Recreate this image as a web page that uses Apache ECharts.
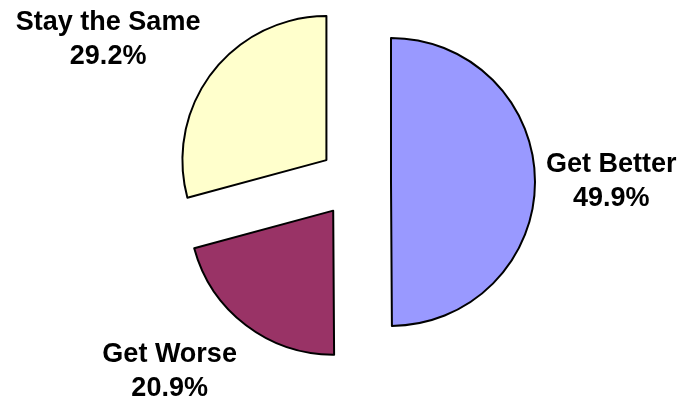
<!DOCTYPE html>
<html>
<head>
<meta charset="utf-8">
<script src="https://cdn.jsdelivr.net/npm/echarts@6/dist/echarts.min.js"></script>
<style>
  html, body { margin: 0; padding: 0; background: #fff; }
  #chart { width: 684px; height: 407px; }
</style>
</head>
<body>
<div id="chart"></div>
<script>
// slices in drawing order, clockwise from 12 o'clock
var categories = ['Get Better', 'Get Worse', 'Stay the Same']
var percents = [49.9, 20.9, 29.2]
var colors = ['#9999ff', '#993366', '#ffffcc']

// label line lengths (invisible) used only to place each label
var labelLines = [
  { length: 3, length2: 3 },
  { length: 58, length2: -31 },
  { length: 55, length2: -37 }
]

var chart = echarts.init(document.getElementById('chart'))

var data = categories.map(function(name, i) {
  return {
    name: name,
    value: percents[i],
    selected: true,
    itemStyle: { color: colors[i] },
    labelLine: { show: false, length: labelLines[i].length, length2: labelLines[i].length2 }
  }
})

chart.setOption({
  backgroundColor: '#fff',
  animation: false,
  series: [
    {
      type: 'pie',
      center: [355, 182],
      radius: 144,
      startAngle: 90,
      clockwise: true,
      selectedMode: 'multiple',
      selectedOffset: 36,
      avoidLabelOverlap: false,
      itemStyle: {
        borderColor: '#000',
        borderWidth: 2
      },
      emphasis: { disabled: true },
      label: {
        show: true,
        position: 'outside',
        bleedMargin: 0,
        formatter: function(p) {
          return '{a|' + p.name + '}\n{a|' + p.value.toFixed(1) + '%}'
        },
        rich: {
          a: {
            align: 'center',
            fontFamily: 'Liberation Sans',
            fontWeight: 'bold',
            fontSize: 27,
            lineHeight: 34,
            color: '#000'
          }
        }
      },
      data: data
    }
  ]
})
</script>
</body>
</html>
